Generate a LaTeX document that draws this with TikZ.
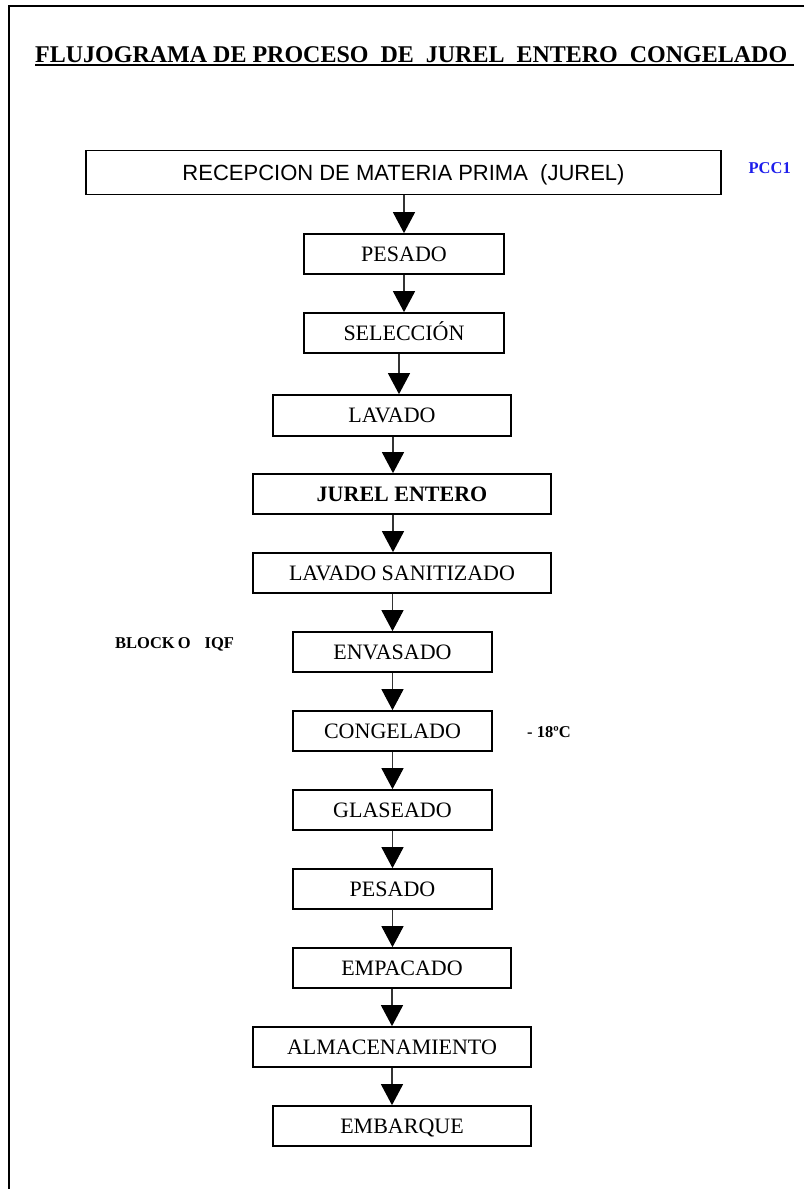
\documentclass[tikz,border=0pt]{standalone}
\usepackage{fontspec}
\setmainfont{Liberation Serif}
\newfontfamily\arialf{Liberation Sans}
\usetikzlibrary{arrows.meta}
\definecolor{pccblue}{RGB}{30,30,235}
\begin{document}
\begin{tikzpicture}[x=1pt,y=-1pt,
  stepbox/.style={draw=black, line width=1.7pt, rectangle, inner sep=0pt,
    minimum height=40pt, text height=14.6pt, text depth=0pt,
    font=\fontsize{22}{24}\selectfont},
  flow/.style={draw=black!80, line width=1.3pt,
    -{Triangle[width=22pt,length=21pt,color=black,fill=black]}},
  note/.style={inner sep=0pt, text height=11.2pt, text depth=0pt,
    font=\fontsize{16.5}{18}\selectfont\bfseries}
]
\useasboundingbox (0,0) rectangle (804,1189);
\draw[line width=2pt] (804,6) -- (9,6) -- (9,1189);

% title
\node[anchor=base west, inner sep=0pt, font=\fontsize{24}{28}\selectfont\bfseries] (title) at (35,62)
  {FLUJOGRAMA DE PROCESO\ \ DE\ \ JUREL\ \ ENTERO\ \ CONGELADO};
\draw[line width=1.5pt] ([yshift=-3pt]title.base west) -- ([yshift=-3pt,xshift=7pt]title.base east);

% boxes
\node[stepbox, minimum width=635pt, minimum height=44pt, text height=15.8pt,
  font=\arialf\fontsize{22}{24}\selectfont] (rec) at (403.5,172.5) {RECEPCION DE MATERIA PRIMA\ \ (JUREL)};
\node[stepbox, minimum width=200pt] (pes) at (404,254) {PESADO};
\node[stepbox, minimum width=200pt] (sel) at (404,333) {SELECCIÓN};
\node[stepbox, minimum width=238pt, minimum height=41pt] (lav) at (392,415.5) {LAVADO};
\node[stepbox, minimum width=298pt, font=\fontsize{22}{24}\selectfont\bfseries] (jur) at (402,494) {JUREL ENTERO};
\node[stepbox, minimum width=298pt] (lsan) at (402,573) {LAVADO SANITIZADO};
\node[stepbox, minimum width=199pt] (env) at (392.5,652) {ENVASADO};
\node[stepbox, minimum width=199pt] (cong) at (392.5,731) {CONGELADO};
\node[stepbox, minimum width=199pt] (glas) at (392.5,810) {GLASEADO};
\node[stepbox, minimum width=199pt] (pes2) at (392.5,889) {PESADO};
\node[stepbox, minimum width=218pt] (emp) at (402,968) {EMPACADO};
\node[stepbox, minimum width=278pt] (alm) at (392,1047) {ALMACENAMIENTO};
\node[stepbox, minimum width=258pt] (emb) at (402,1126) {EMBARQUE};

% side notes
\node[note, anchor=east, text=pccblue] (pcc) at (791,168) {PCC1};
\node[note, anchor=west] (blk) at (115,643) {BLOCK\hspace{3pt}O\hspace{14pt}IQF};
\node[note, anchor=west] (temp) at (527,732) {- 18ºC};

% arrows
\draw[flow] (pes.north |- rec.south) -- (pes.north);
\draw[flow] (pes.south) -- (sel.north);
\draw[flow] ([xshift=-5pt]sel.south) -- ([xshift=7pt]lav.north);
\draw[flow] ([xshift=1pt]lav.south) -- ([xshift=1pt]lav.south |- jur.north);
\draw[flow] ([xshift=-9pt]jur.south) -- ([xshift=-9pt]lsan.north);
\draw[flow] (env.north |- lsan.south) -- (env.north);
\draw[flow] (env.south) -- (cong.north);
\draw[flow] (cong.south) -- (glas.north);
\draw[flow] (glas.south) -- (pes2.north);
\draw[flow] (pes2.south) -- (pes2.south |- emp.north);
\draw[flow] (alm.north |- emp.south) -- (alm.north);
\draw[flow] (alm.south) -- (alm.south |- emb.north);
\end{tikzpicture}
\end{document}
